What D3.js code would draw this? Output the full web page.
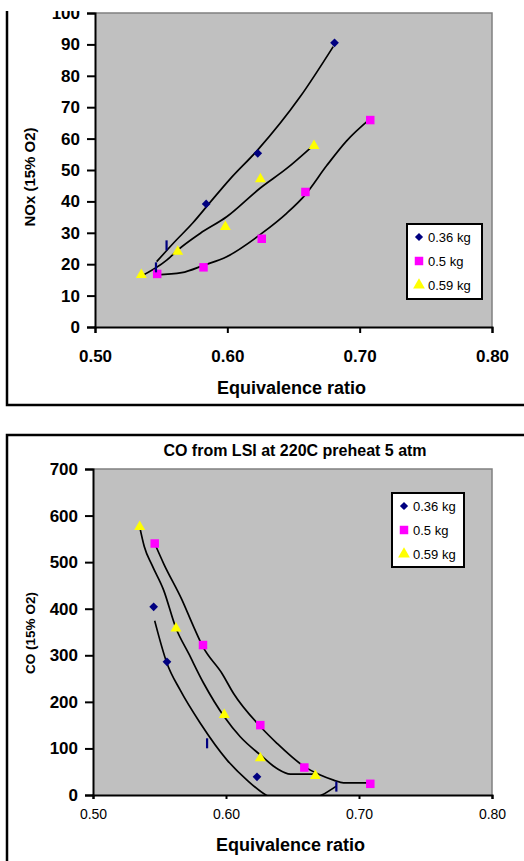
<!DOCTYPE html>
<head>
<meta charset="utf-8">
<style>
  body { margin:0; background:#fff; }
  text { font-family: Arial, "Liberation Sans", sans-serif; }
</style>
</head>
<script src="https://d3js.org/d3.v7.min.js"></script>
<div id="my_dataviz"></div>
<script>
// ---- data ----
const seriesNames = ["0.36 kg", "0.5 kg", "0.59 kg"];
const xTicks = [0.50, 0.60, 0.70, 0.80];
const noxTicks = [0, 10, 20, 30, 40, 50, 60, 70, 80, 90, 100];
const coTicks = [0, 100, 200, 300, 400, 500, 600, 700];

// NOx chart, points [equivalence ratio, NOx]
const nox036 = [[0.584, 39.2], [0.623, 55.3], [0.681, 90.5]];
const nox036Faint = [[0.546, 19], [0.554, 26]];
const nox050 = [[0.547, 16.9], [0.582, 19.0], [0.626, 28.1], [0.659, 43.0], [0.708, 65.9]];
const nox059 = [[0.535, 16.6], [0.5625, 24.0], [0.5985, 31.9], [0.625, 47.1], [0.6655, 57.7]];
// NOx trendlines
const noxFit036 = [[0.5466, 20.8], [0.559, 26.6], [0.574, 33.2], [0.586, 39.2], [0.602, 47.1], [0.623, 56.4], [0.655, 73.3], [0.680, 89.3]];
const noxFit050 = [[0.5466, 16.6], [0.5655, 17.3], [0.5824, 19.7], [0.5995, 22.4], [0.626, 29.8], [0.6448, 36.2], [0.6587, 42.0], [0.6751, 51.4], [0.690, 59.2], [0.7074, 66.1]];
const noxFit059 = [[0.534, 16.0], [0.5542, 21.3], [0.5625, 24.5], [0.5794, 29.8], [0.5995, 35.1], [0.6247, 44.2], [0.6449, 50.5], [0.6638, 57.4]];

// CO chart, points [equivalence ratio, CO]
const co036 = [[0.5456, 404], [0.5556, 286], [0.6233, 39]];
const co036Faint = [[0.5857, 111], [0.6829, 18]];
const co050 = [[0.5464, 540], [0.5827, 322], [0.6258, 150], [0.6589, 59], [0.7085, 24]];
const co059 = [[0.5351, 576], [0.5624, 358], [0.5987, 172], [0.6258, 79], [0.6672, 41]];
// CO trendlines
const coFit036 = [[0.5464, 374], [0.5556, 283], [0.5656, 225], [0.5807, 154], [0.6008, 75], [0.6158, 32], [0.630, 0], [0.640, -11], [0.651, -14], [0.662, -10], [0.672, 0], [0.683, 19]];
const coFit050 = [[0.5464, 540], [0.5531, 497], [0.5669, 419], [0.5757, 361], [0.5827, 318], [0.5970, 261], [0.6057, 218], [0.6258, 147], [0.6383, 111], [0.6589, 61], [0.6709, 43], [0.6809, 32], [0.6884, 26], [0.7085, 26]];
const coFit059 = [[0.5351, 576], [0.5386, 533], [0.5443, 494], [0.5531, 440], [0.5624, 358], [0.5719, 304], [0.5832, 240], [0.5987, 168], [0.6107, 125], [0.6258, 86], [0.6383, 57], [0.6484, 45], [0.6679, 45]];

const colors = ["#000080", "#ff00ff", "#ffff00"];

// diamond as a rotated square, square, triangle
function marker(i, big) {
  if (i == 0) return { d: d3.symbol().type(d3.symbolSquare).size(big ? 34 : 38)(), rot: 45 };
  if (i == 1) return { d: d3.symbol().type(d3.symbolSquare).size(72)(), rot: 0 };
  return { d: d3.symbol().type(d3.symbolTriangle).size(big ? 60 : 52)(), rot: 0 };
}

var svg = d3.select("#my_dataviz")
  .append("svg")
    .attr("width", 524)
    .attr("height", 861);

// everything above y=11 is blank in the original crop
svg.append("defs").append("clipPath").attr("id", "topclip")
  .append("rect").attr("x", 0).attr("y", 11).attr("width", 524).attr("height", 420);

function drawChart(g, cfg) {
  var x = d3.scaleLinear().domain([0.5, 0.8]).range([cfg.left, cfg.right]);
  var y = d3.scaleLinear().domain([cfg.ticks[0], cfg.ticks[cfg.ticks.length - 1]]).range([cfg.bottom, cfg.top]);

  var cid = "plot" + cfg.id;
  g.append("clipPath").attr("id", cid)
    .append("rect").attr("x", cfg.left).attr("y", cfg.top)
    .attr("width", cfg.right - cfg.left).attr("height", cfg.bottom - cfg.top);

  // plot area
  g.append("rect")
    .attr("x", cfg.left).attr("y", cfg.top)
    .attr("width", cfg.right - cfg.left).attr("height", cfg.bottom - cfg.top)
    .attr("fill", "#c0c0c0");
  g.append("path")
    .attr("d", "M" + cfg.left + "," + cfg.top + "H" + cfg.right + "V" + cfg.bottom)
    .attr("fill", "none").attr("stroke", "#808080").attr("stroke-width", 1.5);

  // trendlines
  var line = d3.line().curve(d3.curveMonotoneX)
    .x(d => x(d[0])).y(d => y(d[1]));
  g.append("g").attr("clip-path", "url(#" + cid + ")")
    .selectAll("path").data(cfg.fits).join("path")
    .attr("d", line)
    .attr("fill", "none").attr("stroke", "#000").attr("stroke-width", 1.7);

  // markers
  cfg.points.forEach(function(pts, i) {
    var m = marker(i, false);
    g.append("g").selectAll("path").data(pts).join("path")
      .attr("transform", d => "translate(" + x(d[0]) + "," + y(d[1]) + ") rotate(" + m.rot + ")")
      .attr("d", m.d)
      .attr("fill", colors[i]);
  });
  g.append("g").selectAll("rect").data(cfg.faint).join("rect")
    .attr("x", d => x(d[0]) - 1).attr("y", d => y(d[1]) - 5)
    .attr("width", 2.2).attr("height", 10)
    .attr("fill", colors[0]);

  // axes
  var yAxis = g.append("g")
    .attr("transform", "translate(" + cfg.left + ",0)")
    .call(d3.axisLeft(y).tickValues(cfg.ticks).tickSize(8).tickPadding(7).tickFormat(d3.format("d")));
  yAxis.selectAll("text").attr("font-size", 17).attr("font-weight", "bold").attr("fill", "#000")
    .style("font-family", "Arial, 'Liberation Sans', sans-serif");
  var xAxis = g.append("g")
    .attr("transform", "translate(0," + cfg.bottom + ")")
    .call(d3.axisBottom(x).tickValues(xTicks).tickSize(cfg.xTickSize).tickPadding(cfg.xPad).tickFormat(d3.format(".2f")));
  xAxis.selectAll("text").attr("font-size", cfg.xFont).attr("font-weight", cfg.xBold ? "bold" : "normal").attr("fill", "#000")
    .style("font-family", "Arial, 'Liberation Sans', sans-serif");
  g.selectAll(".domain, .tick line").attr("stroke", "#000").attr("stroke-width", 2);

  // titles
  g.append("text")
    .attr("x", (cfg.left + cfg.right) / 2 - 2).attr("y", cfg.xTitleY)
    .attr("text-anchor", "middle").attr("font-size", 18).attr("font-weight", "bold")
    .text("Equivalence ratio");
  g.append("text")
    .attr("transform", "translate(" + cfg.yTitleX + "," + cfg.yTitleY + ") rotate(-90)")
    .attr("text-anchor", "middle").attr("font-size", cfg.yTitleFont).attr("font-weight", "bold")
    .text(cfg.yTitle);

  // legend
  var L = cfg.legend;
  g.append("rect").attr("x", L.x).attr("y", L.y).attr("width", L.w).attr("height", L.h)
    .attr("fill", "#fff").attr("stroke", "#000").attr("stroke-width", 2);
  seriesNames.forEach(function(name, i) {
    var yy = L.y + 13 + i * 24;
    var m = marker(i, true);
    g.append("path")
      .attr("transform", "translate(" + (L.x + 12) + "," + yy + ") rotate(" + m.rot + ")")
      .attr("d", m.d)
      .attr("fill", colors[i]);
    g.append("text").attr("x", L.x + 21).attr("y", yy + 5)
      .attr("font-size", 13).attr("fill", "#000").text(name);
  });
}

// ---- NOx chart ----
var gTop = svg.append("g").attr("clip-path", "url(#topclip)");
gTop.append("path").attr("d", "M7,0V405H524").attr("fill", "none").attr("stroke", "#000").attr("stroke-width", 2.5);
drawChart(gTop, {
  id: 1, left: 95, right: 492, top: 13, bottom: 327,
  ticks: noxTicks,
  points: [nox036, nox050, nox059], faint: nox036Faint,
  fits: [noxFit036, noxFit050, noxFit059],
  xTickSize: 6, xPad: 17, xFont: 17, xBold: true,
  xTitleY: 394, yTitle: "NOx (15% O2)", yTitleFont: 15, yTitleX: 35, yTitleY: 177,
  legend: {x: 407, y: 224, w: 75, h: 75}
});

// ---- CO chart ----
var gBot = svg.append("g");
gBot.append("path").attr("d", "M7,861V435H524").attr("fill", "none").attr("stroke", "#000").attr("stroke-width", 2.5);
gBot.append("text")
  .attr("x", 295).attr("y", 456)
  .attr("text-anchor", "middle").attr("font-size", 16).attr("font-weight", "bold")
  .text("CO from LSI at 220C preheat 5 atm");
drawChart(gBot, {
  id: 2, left: 93, right: 492, top: 469, bottom: 795,
  ticks: coTicks,
  points: [co036, co050, co059], faint: co036Faint,
  fits: [coFit036, coFit050, coFit059],
  xTickSize: 4, xPad: 10, xFont: 14, xBold: false,
  xTitleY: 851, yTitle: "CO (15% O2)", yTitleFont: 13.5, yTitleX: 35, yTitleY: 633,
  legend: {x: 392, y: 493, w: 72, h: 74}
});
</script>
